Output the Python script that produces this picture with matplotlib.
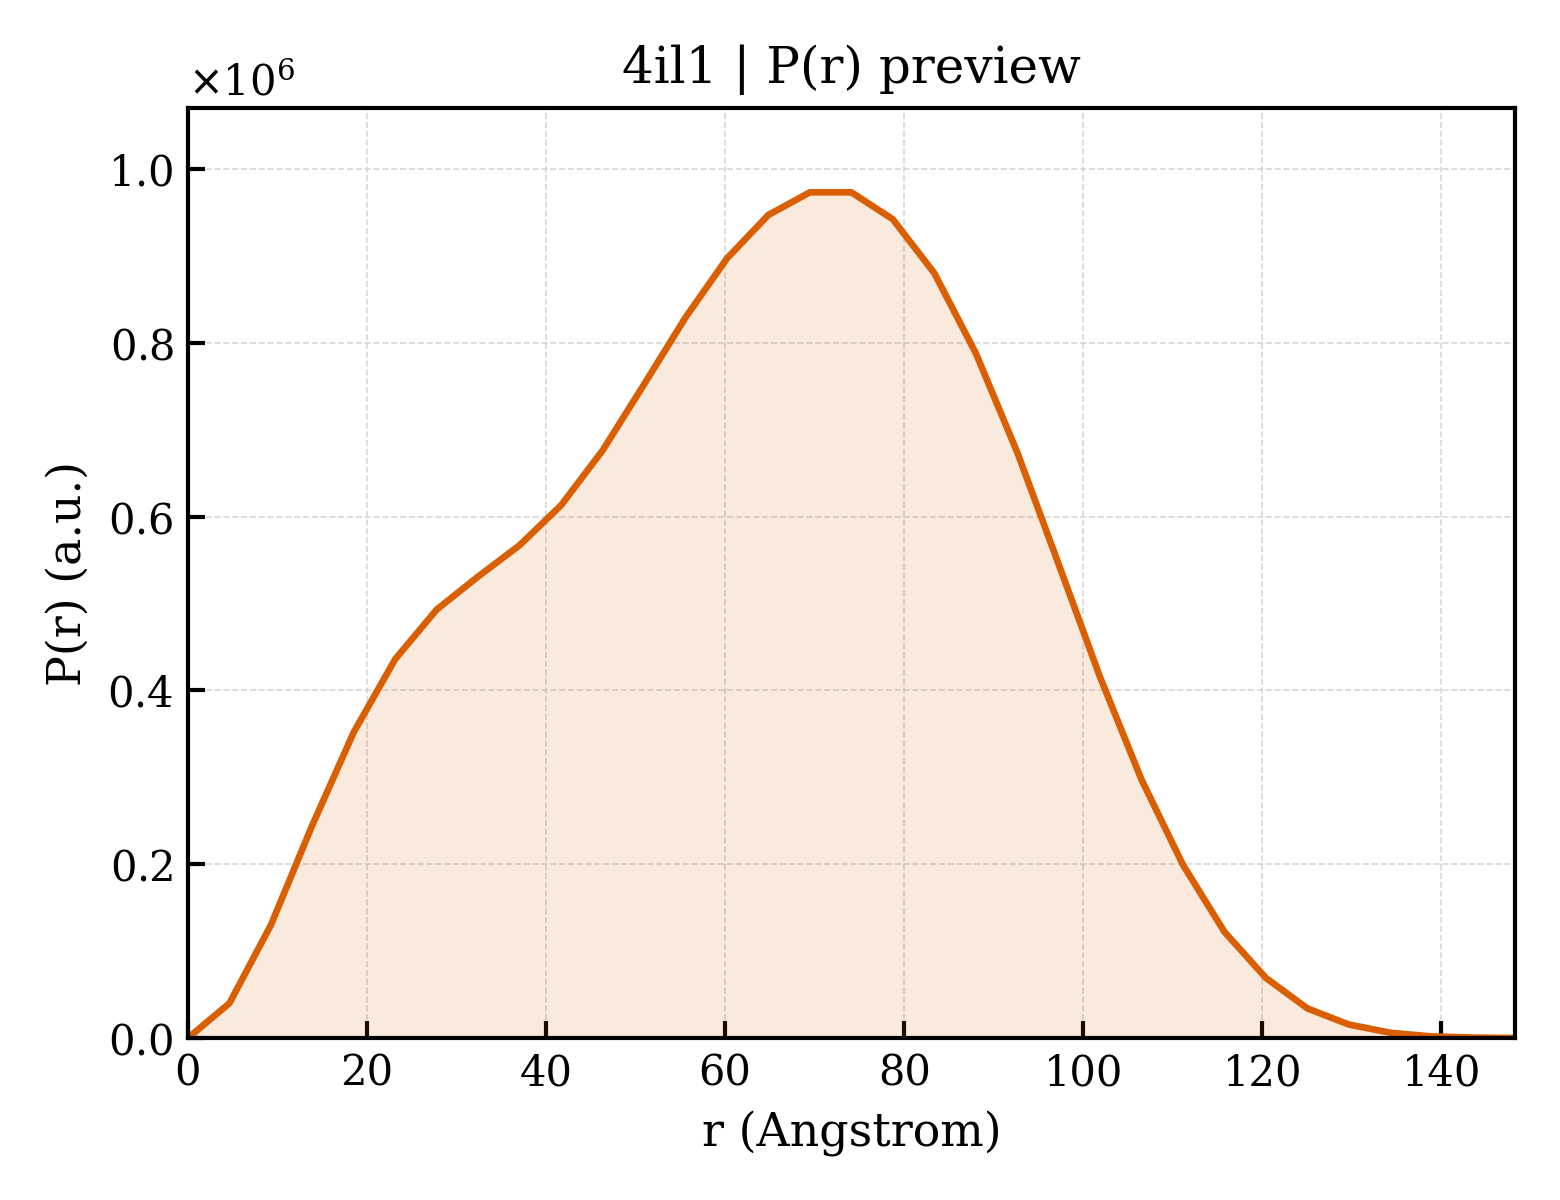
import numpy as np
import matplotlib
matplotlib.use("Agg")
from matplotlib import pyplot as plt

plt.rcParams['font.family'] = 'DejaVu Serif'

# P(r) values (units of 1e6)
r_max = 148.2
r = np.linspace(0.0, r_max, 33)
pr_scaled = [0.0, 0.040, 0.130, 0.245, 0.352, 0.436, 0.493, 0.531, 0.567, 0.613,
             0.676, 0.752, 0.829, 0.897, 0.947, 0.973, 0.973, 0.942, 0.880, 0.788,
             0.674, 0.545, 0.415, 0.297, 0.199, 0.122, 0.069, 0.034, 0.0155, 0.0060,
             0.0018, 0.0005, 0.0]
pr = np.array(pr_scaled) * 1e6

line_color = '#D95F02'

fig = plt.figure(figsize=(5.2, 4.0), dpi=300)
ax = fig.add_axes([0.1205, 0.135, 0.8505, 0.775])

ax.fill_between(r, pr, 0, color=line_color, alpha=0.13, linewidth=0)
ax.plot(r, pr, '-', color=line_color, linewidth=1.6)

ax.set_xlim(0, r_max)
ax.set_ylim(0, 1.07e6)
ax.set_xticks(np.arange(0, 141, 20))
ax.set_yticks(np.arange(0, 1.01e6, 0.2e6))
ax.ticklabel_format(axis='y', style='sci', scilimits=(0, 0), useMathText=True)

ax.grid(True, linestyle='--', linewidth=0.4, color='#cccccc', alpha=0.8)
ax.set_axisbelow(True)
ax.tick_params(direction='in', length=4, width=1, labelsize=10)
for s in ax.spines.values():
    s.set_linewidth(1.0)

ax.set_xlabel('r (Angstrom)', fontsize=11)
ax.set_ylabel('P(r) (a.u.)', fontsize=11)
ax.set_title('4il1 | P(r) preview', fontsize=12)

plt.savefig('out.png', dpi=300)
